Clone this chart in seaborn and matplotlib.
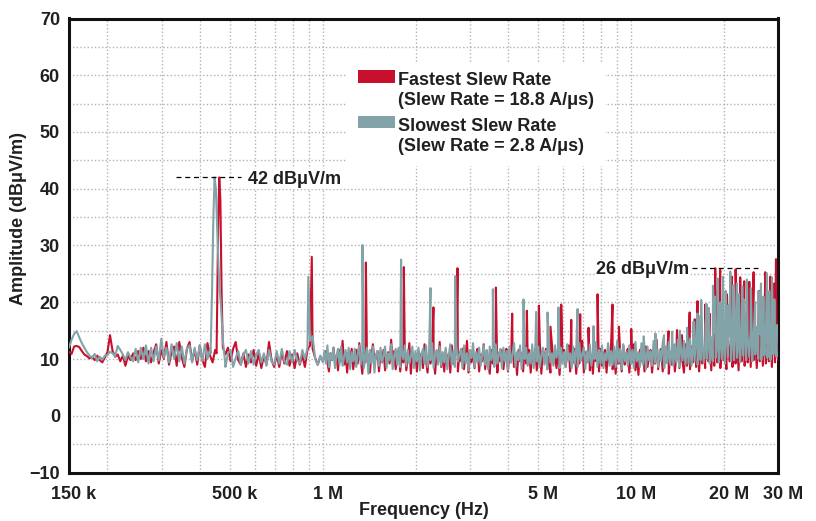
import numpy as np
import pandas as pd
import matplotlib
matplotlib.use("Agg")
import matplotlib.pyplot as plt
import matplotlib.transforms as mtransforms
from matplotlib.patches import Patch, Rectangle
from matplotlib.legend_handler import HandlerPatch
from matplotlib.ticker import FixedLocator, FixedFormatter, NullFormatter, MultipleLocator
import seaborn as sns

# ---------------------------------------------------------------- data
SERIES = ["Fastest Slew Rate\n(Slew Rate = 18.8 A/\u03bcs)",
          "Slowest Slew Rate\n(Slew Rate = 2.8 A/\u03bcs)"]
COLORS = ["#C8102E", "#82A3A8"]

# sweep grids: 150 kHz - 1 MHz and 1 MHz - 30 MHz (log spaced sweep points)
F_START, F_KNEE, F_STOP = 150e3, 1e6, 30e6

# noise floor, 150 kHz - 1 MHz (dBuV/m)
fast_low = [11.3, 10.9, 12.2, 12.3, 12.1, 11.4, 10.8, 10.5, 10.1, 10.4,
            9.8, 10.6, 9.8, 9.4, 10.3, 11.2, 14.2, 11.4, 10.4, 10.8,
            9.6, 10.6, 8.8, 10.6, 9.8, 11.0, 9.8, 11.4, 10.0, 12.0,
            9.6, 11.4, 9.4, 11.2, 12.6, 9.2, 11.6, 10.0, 13.0, 9.0,
            11.2, 12.2, 8.8, 13.0, 10.2, 8.6, 11.8, 13.0, 9.6, 11.6,
            9.0, 12.4, 9.8, 8.6, 12.8, 10.6, 9.4, 11.6, 11.0, 11.0,
            12.0, 10.8, 12.0, 9.6, 11.8, 13.0, 9.8, 9.0, 11.0, 8.6,
            10.8, 9.4, 11.6, 8.8, 11.0, 8.4, 10.6, 9.0, 13.0, 9.8,
            8.6, 10.8, 8.6, 11.2, 9.2, 11.4, 8.8, 10.8, 8.4, 11.0,
            9.0, 10.6, 8.6, 11.6, 12.4, 11.8, 10.2, 9.0, 10.4, 9.8]
slow_low = [12.0, 13.4, 14.4, 14.9, 13.8, 12.8, 12.0, 11.2, 10.6, 10.2,
            10.9, 9.6, 10.4, 9.9, 10.6, 10.7, 11.3, 11.0, 10.5, 12.3,
            11.6, 10.8, 9.8, 11.2, 10.3, 9.6, 11.8, 9.4, 12.0, 10.0,
            12.4, 9.2, 12.0, 9.6, 12.2, 9.8, 13.6, 10.2, 12.0, 9.4,
            12.6, 10.0, 12.8, 9.6, 12.2, 9.2, 11.8, 12.4, 9.4, 12.0,
            9.8, 12.4, 9.6, 12.6, 10.0, 11.6, 11.0, 11.0, 11.0, 11.0,
            11.0, 8.6, 11.0, 11.6, 8.6, 10.2, 11.4, 9.0, 10.8, 11.6,
            9.2, 11.4, 9.0, 10.8, 11.6, 9.4, 11.0, 8.8, 11.6, 9.6,
            9.0, 11.4, 9.2, 11.8, 9.6, 9.0, 11.4, 9.4, 11.6, 9.8,
            9.2, 11.6, 10.0, 12.0, 13.2, 14.0, 10.0, 9.0, 10.6, 9.4]

# noise floor, 1 MHz - 30 MHz (dBuV/m)
fast_high = [
    10.2, 11.4, 9.4, 7.8, 11.0, 9.8, 12.0, 9.2, 10.6, 8.0, 11.6, 9.6, 13.2, 9.0, 10.8, 7.6, 11.2, 10.0, 11.8, 8.2,
    10.4, 11.6, 9.2, 12.8, 9.8, 7.4, 11.0, 9.4, 11.8, 9.0, 7.6, 10.6, 12.6, 9.6, 10.2, 11.4, 7.8, 10.8, 9.4, 11.6,
    8.0, 10.4, 11.2, 9.2, 13.4, 9.6, 11.4, 8.2, 10.0, 11.8, 7.8, 10.6, 9.4, 11.6, 8.0, 10.2, 12.8, 7.4, 11.0, 9.8,
    10.6, 7.8, 11.4, 9.4, 11.0, 8.4, 12.6, 9.8, 7.6, 11.2, 9.2, 11.8, 10.0, 7.4, 11.4, 9.6, 13.0, 8.6, 10.4, 7.8,
    11.6, 9.4, 10.8, 7.6, 12.4, 9.2, 10.6, 11.6, 7.8, 11.0, 9.6, 11.8, 8.2, 10.4, 13.2, 7.6, 11.2, 9.4, 11.6, 8.4,
    10.6, 11.8, 7.8, 10.8, 9.6, 12.6, 8.2, 11.4, 9.4, 7.4, 11.6, 9.2, 10.4, 12.4, 7.6, 11.0, 9.6, 11.6, 8.2, 10.6,
    11.8, 7.8, 11.2, 9.4, 13.0, 8.6, 10.6, 7.2, 11.6, 9.6, 11.0, 7.8, 12.2, 9.2, 10.4, 11.6, 7.6, 11.2, 9.4, 11.8,
    8.0, 10.8, 12.8, 7.4, 11.4, 9.6, 11.8, 8.2, 10.4, 7.6, 12.6, 9.2, 10.8, 8.4, 11.6, 7.2, 11.2, 9.8, 11.6, 8.6,
    10.6, 12.4, 7.8, 11.0, 9.4, 11.8, 7.4, 11.4, 9.2, 10.2, 13.2, 7.6, 11.2, 9.4, 11.6, 8.0, 10.8, 7.4, 12.0, 9.6,
    10.8, 7.8, 11.8, 8.8, 10.6, 11.6, 7.6, 11.2, 9.4, 12.8, 8.2, 10.4, 7.4, 11.6, 9.2, 11.0, 7.8, 12.4, 9.0, 10.8,
    11.8, 7.6, 11.0, 9.4, 12.6, 8.0, 10.6, 7.2, 11.6, 9.6, 11.4, 7.8, 12.2, 8.6, 10.4, 11.6, 7.6, 11.2, 9.2, 13.4,
    8.2, 10.8, 11.8, 7.8, 11.2, 9.4, 11.6, 7.4, 10.8, 9.0, 12.4, 7.8, 10.4, 11.6, 8.4, 11.2, 9.6, 7.6, 12.6, 8.8,
    11.2, 8.2, 12.2, 9.4, 12.8, 8.6, 11.6, 7.8, 13.2, 9.2, 12.0, 8.4, 13.6, 9.6, 12.2, 8.0, 13.0, 8.8, 14.0, 9.4,
    12.6, 8.4, 13.8, 9.8, 12.8, 8.2, 14.2, 9.6, 12.6, 8.6, 14.6, 9.2, 13.4, 8.0, 14.4, 9.6, 13.0, 8.8, 15.0, 9.4,
    13.6, 8.6, 14.8, 9.8, 13.4, 8.4, 14.4, 9.6, 15.2, 8.8, 14.0, 9.2, 15.4, 9.6, 14.2, 8.6, 14.8, 9.4, 15.6, 9.8]
slow_high = [
    11.4, 9.2, 12.4, 8.6, 11.0, 9.8, 12.0, 8.4, 10.6, 11.8, 9.0, 12.2, 8.8, 10.4, 11.6, 9.4, 12.0, 8.2, 11.2, 9.6,
    11.8, 8.6, 10.8, 12.4, 9.0, 11.4, 8.4, 10.2, 12.0, 7.4, 11.6, 9.2, 12.2, 7.6, 10.8, 11.4, 8.8, 12.0, 9.4, 10.6,
    12.2, 8.4, 11.0, 9.8, 12.6, 8.2, 10.6, 11.8, 9.0, 12.0, 8.6, 11.2, 10.0, 12.4, 8.8, 11.6, 9.2, 10.4, 12.2, 8.4,
    11.4, 9.6, 12.0, 8.0, 10.8, 11.8, 9.2, 12.4, 8.6, 11.0, 9.8, 12.8, 8.4, 10.6, 11.6, 9.0, 12.2, 8.8, 11.2, 9.4,
    12.0, 8.2, 10.6, 12.6, 9.0, 11.4, 8.6, 12.2, 9.6, 10.8, 11.8, 8.4, 12.4, 9.2, 11.0, 8.0, 11.6, 10.2, 12.8, 8.6,
    11.2, 9.4, 12.0, 8.8, 10.6, 12.4, 9.0, 11.6, 8.2, 12.2, 9.8, 11.0, 8.6, 12.6, 9.2, 10.8, 11.8, 8.4, 12.0, 9.6,
    11.4, 8.0, 12.2, 9.4, 10.8, 12.8, 8.6, 11.2, 9.8, 12.4, 8.2, 11.6, 10.0, 12.0, 8.8, 11.0, 9.2, 12.6, 8.4, 11.8,
    9.6, 12.2, 8.6, 10.6, 12.0, 9.0, 11.4, 8.2, 12.8, 9.4, 11.0, 8.8, 12.4, 10.2, 11.6, 8.4, 12.0, 9.2, 11.2, 8.6,
    12.6, 9.8, 11.0, 8.4, 12.2, 9.0, 11.8, 8.6, 12.8, 9.6, 10.8, 12.0, 8.2, 11.4, 9.4, 12.6, 8.8, 11.2, 10.0, 13.0,
    8.6, 11.6, 9.2, 12.4, 8.4, 11.0, 9.8, 12.8, 8.8, 11.4, 9.0, 12.2, 8.6, 13.2, 9.4, 11.8, 8.2, 12.6, 9.6, 11.2,
    8.8, 12.4, 9.2, 11.6, 8.4, 13.0, 9.6, 11.2, 8.6, 12.8, 9.0, 11.8, 8.2, 12.2, 9.8, 11.4, 8.8, 13.2, 9.4, 12.0,
    8.6, 11.6, 9.6, 12.8, 8.4, 12.2, 9.2, 13.0, 9.0, 11.8, 8.8, 12.6, 9.4, 13.4, 8.6, 12.0, 9.8, 13.2, 9.0, 12.4,
    9.2, 13.6, 8.8, 12.8, 9.6, 14.0, 9.0, 13.2, 9.8, 14.4, 9.4, 12.6, 10.0, 14.2, 9.2, 13.8, 9.6, 14.6, 10.2, 13.4,
    9.4, 14.8, 10.0, 13.6, 9.2, 15.0, 10.4, 14.0, 9.6, 14.6, 9.8, 15.2, 10.2, 13.8, 9.4, 14.8, 10.6, 15.4, 9.8, 14.2,
    10.4, 15.0, 9.6, 14.6, 10.8, 15.6, 10.0, 14.4, 9.8, 15.2, 10.6, 14.8, 10.2, 15.8, 9.8, 15.0, 10.8, 15.4, 10.4, 15.6]

# switching-frequency fundamental (main lobe)
fast_lobe_freq = [451.9e3, 457.7e3, 461.1e3, 464.9e3, 469.1e3, 473.6e3]
fast_lobe_amp = [11.0, 35.0, 42.0, 38.0, 22.0, 12.0]
slow_lobe_freq = [432.1e3, 436.9e3, 441.2e3, 445.2e3, 449.5e3, 454.6e3,
                  460.4e3, 467.3e3, 474.3e3, 481.5e3]
slow_lobe_amp = [11.0, 22.0, 35.0, 42.0, 40.0, 32.0, 24.0, 19.0, 13.0, 9.5]

# harmonic spurs
fast_spur_freq = [920.6e3, 1.379e6, 1.831e6, 2.285e6, 2.735e6, 3.643e6, 4.116e6,
                  4.593e6, 5.025e6, 5.48e6, 5.937e6, 6.399e6, 6.842e6, 7.28e6,
                  7.788e6, 8.71e6, 9.137e6, 10.02e6, 13.24e6, 14.1e6, 14.64e6,
                  15.5e6, 16.1e6, 16.44e6, 17.42e6, 17.99e6, 18.77e6, 19.0e6,
                  19.48e6, 20.49e6, 21.27e6, 21.85e6, 22.62e6, 23.31e6, 23.9e6,
                  24.21e6, 25.0e6, 26.0e6, 27.27e6, 28.32e6, 28.9e6, 29.17e6,
                  29.55e6]
fast_spur_amp = [28.0, 27.0, 26.2, 19.1, 26.0, 22.6, 18.0,
                 18.5, 19.4, 15.7, 19.6, 16.9, 17.9, 15.5,
                 21.4, 19.6, 15.7, 15.3, 14.9, 15.1, 14.2,
                 18.2, 17.0, 20.2, 19.6, 18.0, 26.0, 22.0,
                 25.7, 21.4, 24.5, 25.8, 24.4, 23.7, 20.0,
                 23.6, 25.3, 22.0, 25.3, 24.5, 19.5, 23.3,
                 27.6]
slow_spur_freq = [897e3, 1.344e6, 1.794e6, 2.235e6, 2.688e6, 3.562e6, 4.479e6,
                  4.924e6, 5.358e6, 5.818e6, 6.707e6, 7.56e6, 11.0e6, 12.0e6,
                  12.8e6, 13.6e6, 14.4e6, 15.2e6, 15.96e6, 16.41e6, 16.7e6,
                  16.9e6, 17.6e6, 17.9e6, 18.45e6, 18.7e6, 19.1e6, 19.5e6,
                  19.89e6, 20.3e6, 20.7e6, 21.0e6, 21.5e6, 22.08e6, 22.4e6,
                  22.97e6, 23.2e6, 23.78e6, 24.5e6, 25.3e6, 25.95e6, 26.42e6,
                  26.9e6, 27.63e6, 28.1e6, 28.68e6, 29.2e6, 29.8e6]
slow_spur_amp = [24.5, 30.1, 27.5, 22.5, 24.6, 22.3, 20.5,
                 18.3, 18.2, 19.1, 18.8, 15.8, 14.0, 14.5,
                 14.2, 14.8, 15.0, 15.5, 16.6, 18.0, 17.5,
                 20.4, 19.7, 19.0, 22.9, 21.0, 24.2, 20.0,
                 24.5, 22.0, 19.5, 25.4, 23.0, 23.3, 21.5,
                 22.8, 20.5, 24.0, 22.5, 20.0, 21.9, 23.3,
                 21.0, 25.1, 22.0, 24.4, 20.5, 16.0]

# labelled peak levels
PEAK_LEVELS = [42, 26]


def sweep(low, high, lobe_f, lobe_a, spur_f, spur_a):
    """Join both sweep bands, then place the main lobe and the spurs."""
    f = np.concatenate([np.geomspace(F_START, F_KNEE, len(low)),
                        np.geomspace(F_KNEE, F_STOP, len(high) + 1)[1:]])
    a = np.concatenate([low, high])
    keep = (f < min(lobe_f)) | (f > max(lobe_f))
    f = np.concatenate([f[keep], lobe_f, spur_f])
    a = np.concatenate([a[keep], lobe_a, spur_a])
    order = np.argsort(f)
    return f[order], a[order]


frames = []
for name, parts in zip(SERIES, [
        (fast_low, fast_high, fast_lobe_freq, fast_lobe_amp, fast_spur_freq, fast_spur_amp),
        (slow_low, slow_high, slow_lobe_freq, slow_lobe_amp, slow_spur_freq, slow_spur_amp)]):
    f, a = sweep(*parts)
    frames.append(pd.DataFrame({"Frequency": f, "Amplitude": a, "Trace": name}))
df = pd.concat(frames, ignore_index=True)

# ---------------------------------------------------------------- style
sns.set_style("white")
plt.rcParams["font.family"] = ["Liberation Sans", "DejaVu Sans"]
plt.rcParams["font.weight"] = "bold"
plt.rcParams["axes.labelweight"] = "bold"
FS = 13
INK = "#231f20"

fig = plt.figure(figsize=(8.16, 5.21), dpi=100)
ax = fig.add_axes([69 / 816, 48.5 / 521, 709 / 816, 454 / 521])

sns.lineplot(data=df, x="Frequency", y="Amplitude", hue="Trace",
             hue_order=SERIES, palette=COLORS, estimator=None, errorbar=None,
             sort=False, linewidth=1.5, legend=False, ax=ax, zorder=3)

ax.set_xscale("log")
ax.set_xlim(F_START, F_STOP)
ax.set_ylim(-10, 70)

tick_freqs = [150e3, 500e3, 1e6, 5e6, 10e6, 20e6, 30e6]
tick_labels = ["150 k", "500 k", "1 M", "5 M", "10 M", "20 M", "30 M"]
grid_freqs = [200e3, 300e3, 400e3, 600e3, 700e3, 800e3, 900e3,
              2e6, 3e6, 4e6, 6e6, 7e6, 8e6, 9e6]
ax.xaxis.set_major_locator(FixedLocator(tick_freqs))
ax.xaxis.set_major_formatter(FixedFormatter(tick_labels))
ax.xaxis.set_minor_locator(FixedLocator(grid_freqs))
ax.xaxis.set_minor_formatter(NullFormatter())
ax.yaxis.set_major_locator(MultipleLocator(10))
ax.yaxis.set_minor_locator(MultipleLocator(5))

ax.grid(which="both", color="#b3b3b3", linestyle=(0, (1, 1.6)), linewidth=1.0, zorder=0)
ax.tick_params(which="both", direction="inout", length=7, width=1.5,
               color="black", labelsize=FS, labelcolor=INK)
ax.tick_params(axis="x", which="both", pad=6)
ax.tick_params(axis="y", which="both", pad=3)
shift = mtransforms.ScaledTranslation(5 / 100, 0, fig.dpi_scale_trans)
for lbl in ax.get_xticklabels():
    lbl.set_transform(lbl.get_transform() + shift)
for s in ax.spines.values():
    s.set_color("#111111")
    s.set_linewidth(2.2)
    s.set_visible(True)

ax.set_xlabel("Frequency (Hz)", fontsize=FS, color=INK)
ax.set_ylabel("Amplitude (dB\u03bcV/m)", fontsize=FS, color=INK)
ax.xaxis.set_label_coords(0.5, -0.066)
ax.yaxis.set_label_coords(-0.059, 0.56)


# legend: colour swatch level with the first line of each two-line label
def top_swatch(legend, orig_handle, xdescent, ydescent, width, height, fontsize):
    return Rectangle((-xdescent, -ydescent + 0.8 * fontsize), width, height)


handles = [Patch(facecolor=c, edgecolor="none") for c in COLORS]
leg = ax.legend(handles, SERIES, loc="upper left", bbox_to_anchor=(0.392, 0.905),
                frameon=True, fancybox=False, facecolor="white", edgecolor="none",
                framealpha=1, fontsize=FS, borderpad=0.6, borderaxespad=0,
                handlelength=2.05, handleheight=0.7, handletextpad=0.2,
                labelspacing=0.5,
                handler_map={Patch: HandlerPatch(patch_func=top_swatch)})
leg.set_zorder(5)
for t in leg.get_texts():
    t.set_color(INK)

# peak level markers
level_spans = [(334e3, 543e3), (15.8e6, 25.9e6)]
label_anchor = [(572e3, "left"), (15.45e6, "right")]
for lvl, (f0, f1), (fx, ha) in zip(PEAK_LEVELS, level_spans, label_anchor):
    ax.plot([f0, f1], [lvl, lvl], color="black", linewidth=0.9,
            linestyle=(0, (4, 3)), zorder=4)
    ax.text(fx, lvl - 0.3, f"{lvl} dB\u03bcV/m", ha=ha, va="center", fontsize=FS,
            color=INK, zorder=6,
            bbox=dict(facecolor="white", edgecolor="none", pad=1.0))

fig.savefig("out.png", dpi=100)
